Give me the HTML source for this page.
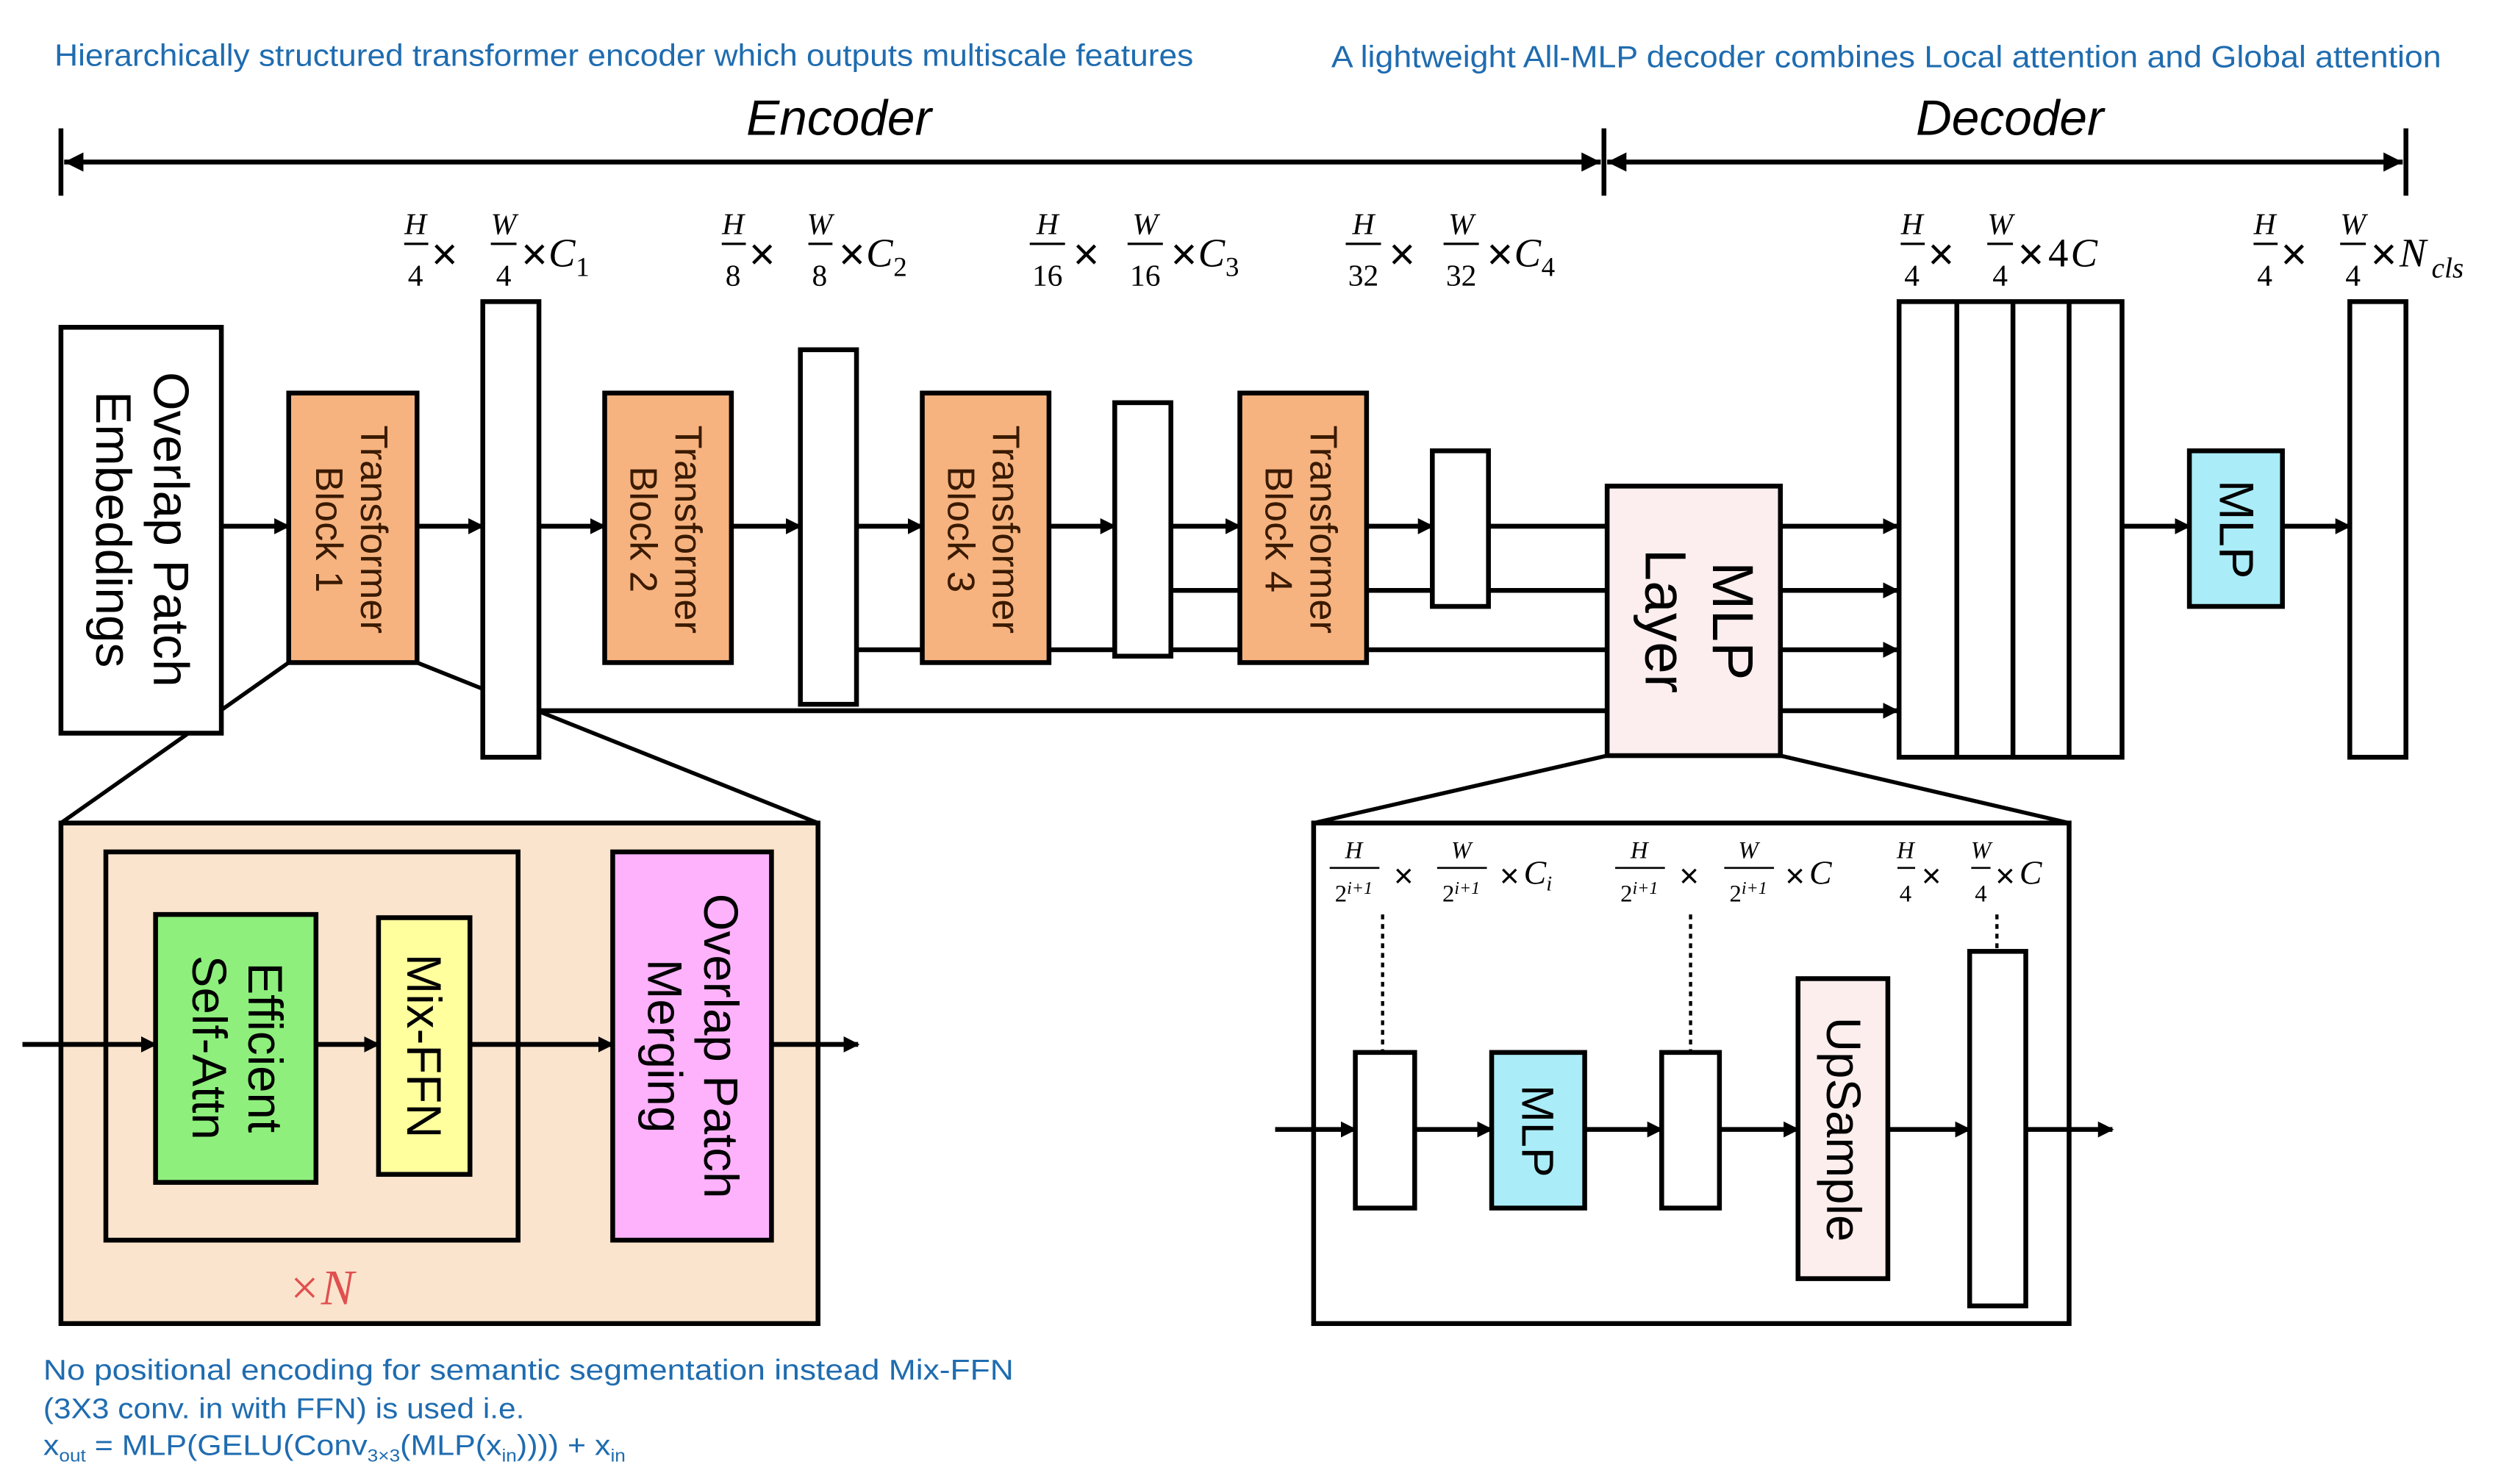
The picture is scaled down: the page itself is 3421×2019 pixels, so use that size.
<!DOCTYPE html>
<html><head><meta charset="utf-8"><style>
html,body{margin:0;padding:0;background:#fff;}
svg{display:block}
.bl{font-family:"Liberation Sans",sans-serif;fill:#1f6cb0;}
.rt{font-family:"Liberation Sans",sans-serif;fill:#000;}
.m{font-family:"Liberation Serif",serif;font-style:italic;fill:#000;}
.n{font-family:"Liberation Serif",serif;fill:#000;}
.x{font-family:"Liberation Sans",sans-serif;fill:#000;}
</style></head><body>
<svg width="3421" height="2019" viewBox="0 0 1568 925" preserveAspectRatio="none" xmlns="http://www.w3.org/2000/svg">
<defs>
<marker id="ah" markerWidth="10" markerHeight="10" refX="9" refY="5" orient="auto" markerUnits="userSpaceOnUse"><path d="M0,0 L10,5 L0,10 z" fill="#000"/></marker>
</defs>
<text class="bl" x="34" y="41" font-size="19" textLength="710" lengthAdjust="spacingAndGlyphs">Hierarchically structured transformer encoder which outputs multiscale features</text>
<text class="bl" x="830" y="42" font-size="19" textLength="692" lengthAdjust="spacingAndGlyphs">A lightweight All-MLP decoder combines Local attention and Global attention</text>
<text class="rt" x="523" y="84" font-size="31" font-style="italic" text-anchor="middle">Encoder</text>
<text class="rt" x="1253" y="84" font-size="31" font-style="italic" text-anchor="middle">Decoder</text>
<g stroke="#000" stroke-width="3" fill="none">
<line x1="38" y1="80" x2="38" y2="122"/><line x1="1000" y1="80" x2="1000" y2="122"/><line x1="1500" y1="80" x2="1500" y2="122"/>
<line x1="40" y1="101" x2="998" y2="101"/><line x1="1002" y1="101" x2="1498" y2="101"/>
</g>
<g fill="#000"><path d="M40,101 l12,-6 v12z"/><path d="M998,101 l-12,-6 v12z"/><path d="M1002,101 l12,-6 v12z"/><path d="M1498,101 l-12,-6 v12z"/></g>

<g font-size="19">
<g class="m"><text x="259" y="146" text-anchor="middle">H</text><text x="314" y="146" text-anchor="middle">W</text></g>
<g class="n"><text x="259" y="178" text-anchor="middle">4</text><text x="314" y="178" text-anchor="middle">4</text></g>
<text class="x" x="269" y="168" font-size="28">×</text><text class="x" x="325" y="168" font-size="28">×</text>
<text class="m" x="342" y="166" font-size="25">C</text><text class="n" x="359" y="172" font-size="17">1</text>

<g class="m"><text x="457" y="146" text-anchor="middle">H</text><text x="511" y="146" text-anchor="middle">W</text></g>
<g class="n"><text x="457" y="178" text-anchor="middle">8</text><text x="511" y="178" text-anchor="middle">8</text></g>
<text class="x" x="467" y="168" font-size="28">×</text><text class="x" x="523" y="168" font-size="28">×</text>
<text class="m" x="540" y="166" font-size="25">C</text><text class="n" x="557" y="172" font-size="17">2</text>

<g class="m"><text x="653" y="146" text-anchor="middle">H</text><text x="714" y="146" text-anchor="middle">W</text></g>
<g class="n"><text x="653" y="178" text-anchor="middle">16</text><text x="714" y="178" text-anchor="middle">16</text></g>
<text class="x" x="669" y="168" font-size="28">×</text><text class="x" x="730" y="168" font-size="28">×</text>
<text class="m" x="747" y="166" font-size="25">C</text><text class="n" x="764" y="172" font-size="17">3</text>

<g class="m"><text x="850" y="146" text-anchor="middle">H</text><text x="911" y="146" text-anchor="middle">W</text></g>
<g class="n"><text x="850" y="178" text-anchor="middle">32</text><text x="911" y="178" text-anchor="middle">32</text></g>
<text class="x" x="866" y="168" font-size="28">×</text><text class="x" x="927" y="168" font-size="28">×</text>
<text class="m" x="944" y="166" font-size="25">C</text><text class="n" x="961" y="172" font-size="17">4</text>

<g class="m"><text x="1192" y="146" text-anchor="middle">H</text><text x="1247" y="146" text-anchor="middle">W</text></g>
<g class="n"><text x="1192" y="178" text-anchor="middle">4</text><text x="1247" y="178" text-anchor="middle">4</text><text x="1277" y="166" font-size="25">4</text></g>
<text class="x" x="1202" y="168" font-size="28">×</text><text class="x" x="1258" y="168" font-size="28">×</text>
<text class="m" x="1291" y="166" font-size="25">C</text>

<g class="m"><text x="1412" y="146" text-anchor="middle">H</text><text x="1467" y="146" text-anchor="middle">W</text></g>
<g class="n"><text x="1412" y="178" text-anchor="middle">4</text><text x="1467" y="178" text-anchor="middle">4</text></g>
<text class="x" x="1422" y="168" font-size="28">×</text><text class="x" x="1478" y="168" font-size="28">×</text>
<text class="m" x="1496" y="166" font-size="25">N</text><text class="m" x="1516" y="173" font-size="18">cls</text>
</g>
<g stroke="#000" stroke-width="1.5">
<line x1="252" y1="152" x2="267" y2="152"/><line x1="306" y1="152" x2="322" y2="152"/>
<line x1="450" y1="152" x2="465" y2="152"/><line x1="504" y1="152" x2="519" y2="152"/>
<line x1="642" y1="152" x2="664" y2="152"/><line x1="703" y1="152" x2="725" y2="152"/>
<line x1="839" y1="152" x2="861" y2="152"/><line x1="900" y1="152" x2="922" y2="152"/>
<line x1="1185" y1="152" x2="1200" y2="152"/><line x1="1239" y1="152" x2="1255" y2="152"/>
<line x1="1405" y1="152" x2="1420" y2="152"/><line x1="1459" y1="152" x2="1475" y2="152"/>
</g>

<g stroke="#000" stroke-width="3" fill="none">
<line x1="336" y1="443" x2="1002" y2="443"/>
<line x1="534" y1="405" x2="1002" y2="405"/>
<line x1="730" y1="368" x2="1002" y2="368"/>
<line x1="928" y1="328" x2="1002" y2="328"/>
<line x1="180" y1="413" x2="38" y2="513" stroke-width="2.5"/>
<line x1="260" y1="413" x2="510" y2="513" stroke-width="2.5"/>
<line x1="1002" y1="471" x2="819" y2="513" stroke-width="2.5"/>
<line x1="1110" y1="471" x2="1290" y2="513" stroke-width="2.5"/>
</g>
<g stroke="#000" stroke-width="3" marker-end="url(#ah)">
<line x1="138" y1="328" x2="180" y2="328"/>
<line x1="260" y1="328" x2="301" y2="328"/>
<line x1="336" y1="328" x2="377" y2="328"/>
<line x1="456" y1="328" x2="499" y2="328"/>
<line x1="534" y1="328" x2="575" y2="328"/>
<line x1="654" y1="328" x2="695" y2="328"/>
<line x1="730" y1="328" x2="773" y2="328"/>
<line x1="852" y1="328" x2="893" y2="328"/>
<line x1="1110" y1="328" x2="1183" y2="328"/>
<line x1="1110" y1="368" x2="1183" y2="368"/>
<line x1="1110" y1="405" x2="1183" y2="405"/>
<line x1="1110" y1="443" x2="1183" y2="443"/>
<line x1="1323" y1="328" x2="1365" y2="328"/>
<line x1="1423" y1="328" x2="1465" y2="328"/>
</g>

<g stroke="#000" stroke-width="3">
<rect x="38" y="204" width="100" height="253" fill="#fff"/>
<rect x="180" y="245" width="80" height="168" fill="#f6b37f"/>
<rect x="301" y="188" width="35" height="284" fill="#fff"/>
<rect x="377" y="245" width="79" height="168" fill="#f6b37f"/>
<rect x="499" y="218" width="35" height="221" fill="#fff"/>
<rect x="575" y="245" width="79" height="168" fill="#f6b37f"/>
<rect x="695" y="251" width="35" height="158" fill="#fff"/>
<rect x="773" y="245" width="79" height="168" fill="#f6b37f"/>
<rect x="893" y="281" width="35" height="97" fill="#fff"/>
<rect x="1002" y="303" width="108" height="168" fill="#fceeee"/>
<rect x="1184" y="188" width="139" height="284" fill="#fff"/>
<line x1="1220" y1="188" x2="1220" y2="472"/><line x1="1255" y1="188" x2="1255" y2="472"/><line x1="1290" y1="188" x2="1290" y2="472"/>
<rect x="1365" y="281" width="58" height="97" fill="#aaecf7"/>
<rect x="1465" y="188" width="35" height="284" fill="#fff"/>
</g>
<g class="rt">
<text transform="translate(88,330) rotate(90)" font-size="31" text-anchor="middle"><tspan x="0" y="-8">Overlap Patch</tspan><tspan x="0" y="28">Embeddings</tspan></text>
<g font-size="24" fill="#3a1a00">
<text transform="translate(220,330) rotate(90)" text-anchor="middle"><tspan x="0" y="-5">Transformer</tspan><tspan x="0" y="23">Block 1</tspan></text>
<text transform="translate(416,330) rotate(90)" text-anchor="middle"><tspan x="0" y="-5">Transformer</tspan><tspan x="0" y="23">Block 2</tspan></text>
<text transform="translate(614,330) rotate(90)" text-anchor="middle"><tspan x="0" y="-5">Transformer</tspan><tspan x="0" y="23">Block 3</tspan></text>
<text transform="translate(812,330) rotate(90)" text-anchor="middle"><tspan x="0" y="-5">Transformer</tspan><tspan x="0" y="23">Block 4</tspan></text>
</g>
<text transform="translate(1056,387) rotate(90)" font-size="36" text-anchor="middle"><tspan x="0" y="-12">MLP</tspan><tspan x="0" y="30">Layer</tspan></text>
<text transform="translate(1394,330) rotate(90)" font-size="30" text-anchor="middle" y="10">MLP</text>
</g>

<rect x="38" y="513" width="472" height="312" fill="#fbe4cd" stroke="#000" stroke-width="3"/>
<rect x="66" y="531" width="257" height="242" fill="none" stroke="#000" stroke-width="3"/>
<g stroke="#000" stroke-width="3" marker-end="url(#ah)">
<line x1="14" y1="651" x2="97" y2="651"/>
<line x1="197" y1="651" x2="236" y2="651"/>
<line x1="293" y1="651" x2="382" y2="651"/>
<line x1="481" y1="651" x2="535" y2="651"/>
</g>
<g stroke="#000" stroke-width="3">
<rect x="97" y="570" width="100" height="167" fill="#8eef7c"/>
<rect x="236" y="572" width="57" height="160" fill="#ffff9e"/>
<rect x="382" y="531" width="99" height="242" fill="#fdb2fb"/>
</g>
<g class="rt" font-size="30">
<text transform="translate(147,653) rotate(90)" text-anchor="middle"><tspan x="0" y="-8">Efficient</tspan><tspan x="0" y="27">Self-Attn</tspan></text>
<text transform="translate(264,652) rotate(90)" text-anchor="middle" y="10">Mix-FFN</text>
<text transform="translate(431,652) rotate(90)" text-anchor="middle"><tspan x="0" y="-8">Overlap Patch</tspan><tspan x="0" y="27">Merging</tspan></text>
</g>
<text x="200" y="813" font-family="Liberation Serif,serif" font-size="31" font-style="italic" fill="#e05050" text-anchor="middle">×N</text>

<rect x="819" y="513" width="471" height="312" fill="#fff" stroke="#000" stroke-width="3"/>
<g stroke="#000" stroke-width="2" stroke-dasharray="3,3">
<line x1="862" y1="570" x2="862" y2="656"/><line x1="1054" y1="570" x2="1054" y2="656"/><line x1="1245" y1="570" x2="1245" y2="593"/>
</g>
<g stroke="#000" stroke-width="3" marker-end="url(#ah)">
<line x1="795" y1="704" x2="845" y2="704"/>
<line x1="882" y1="704" x2="930" y2="704"/>
<line x1="988" y1="704" x2="1036" y2="704"/>
<line x1="1072" y1="704" x2="1121" y2="704"/>
<line x1="1177" y1="704" x2="1228" y2="704"/>
<line x1="1263" y1="704" x2="1317" y2="704"/>
</g>
<g stroke="#000" stroke-width="3">
<rect x="845" y="656" width="37" height="97" fill="#fff"/>
<rect x="930" y="656" width="58" height="97" fill="#aaecf7"/>
<rect x="1036" y="656" width="36" height="97" fill="#fff"/>
<rect x="1121" y="610" width="56" height="187" fill="#fdeeee"/>
<rect x="1228" y="593" width="35" height="221" fill="#fff"/>
</g>
<g class="rt">
<text transform="translate(959,705) rotate(90)" font-size="28" text-anchor="middle" y="10">MLP</text>
<text transform="translate(1149,704) rotate(90)" font-size="30" text-anchor="middle" y="10">UpSample</text>
</g>
<g font-size="15">
<g class="m"><text x="844" y="535" text-anchor="middle">H</text><text x="911" y="535" text-anchor="middle">W</text>
<text x="1022" y="535" text-anchor="middle">H</text><text x="1090" y="535" text-anchor="middle">W</text>
<text x="1188" y="535" text-anchor="middle">H</text><text x="1235" y="535" text-anchor="middle">W</text></g>
<g class="n"><text x="844" y="562" text-anchor="middle">2<tspan font-size="11" dy="-5" font-style="italic">i+1</tspan></text>
<text x="911" y="562" text-anchor="middle">2<tspan font-size="11" dy="-5" font-style="italic">i+1</tspan></text>
<text x="1022" y="562" text-anchor="middle">2<tspan font-size="11" dy="-5" font-style="italic">i+1</tspan></text>
<text x="1090" y="562" text-anchor="middle">2<tspan font-size="11" dy="-5" font-style="italic">i+1</tspan></text>
<text x="1188" y="562" text-anchor="middle">4</text><text x="1235" y="562" text-anchor="middle">4</text></g>
<g class="x" font-size="21"><text x="869" y="553">×</text><text x="935" y="553">×</text>
<text x="1047" y="553">×</text><text x="1113" y="553">×</text>
<text x="1198" y="553">×</text><text x="1244" y="553">×</text></g>
<g class="m" font-size="21"><text x="950" y="551">C<tspan font-size="13" dy="4">i</tspan></text><text x="1128" y="551">C</text><text x="1259" y="551">C</text></g>
</g>
<g stroke="#000" stroke-width="1.2">
<line x1="829" y1="541" x2="860" y2="541"/><line x1="896" y1="541" x2="927" y2="541"/>
<line x1="1007" y1="541" x2="1038" y2="541"/><line x1="1075" y1="541" x2="1106" y2="541"/>
<line x1="1183" y1="541" x2="1194" y2="541"/><line x1="1229" y1="541" x2="1241" y2="541"/>
</g>

<text class="bl" x="27" y="860" font-size="18" textLength="605" lengthAdjust="spacingAndGlyphs">No positional encoding for semantic segmentation instead Mix-FFN</text>
<text class="bl" x="27" y="884" font-size="18" textLength="300" lengthAdjust="spacingAndGlyphs">(3X3 conv. in with FFN) is used i.e.</text>
<text class="bl" x="27" y="907" font-size="18" textLength="363" lengthAdjust="spacingAndGlyphs">x<tspan font-size="11" dy="4">out</tspan><tspan dy="-4"> = MLP(GELU(Conv</tspan><tspan font-size="11" dy="4">3×3</tspan><tspan dy="-4">(MLP(x</tspan><tspan font-size="11" dy="4">in</tspan><tspan dy="-4">)))) + x</tspan><tspan font-size="11" dy="4">in</tspan></text>
</svg>
</body></html>
